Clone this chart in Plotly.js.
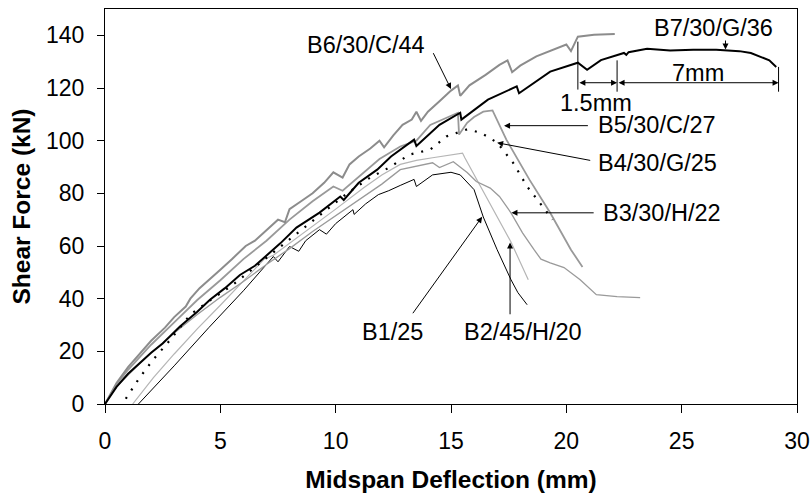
<!DOCTYPE html>
<html>
<head>
<meta charset="utf-8">
<script src="https://cdn.plot.ly/plotly-3.0.1.min.js"></script>
<style>html,body{margin:0;padding:0;background:#fff;}#chart{width:812px;height:498px;}</style>
</head>
<body>
<div id="chart"></div>
<script>
// B6/30/C/44
const b6x = [0,0.5,1,1.5,2,2.6,3,3.5,3.7,4.1,4.5,5,5.5,6.1,6.5,7,7.5,7.8,8,8.5,9,9.5,9.9,10.3,10.6,11,11.5,11.9,12.1,12.5,12.9,13.3,13.5,13.7,14,14.5,15,15.3,15.4,15.8,16.5,17.1,17.45,17.65,18.0,18.7,19.3,20.0,20.2,20.5,21.2,22.1];
const b6y = [0,8,14,19,24,29,33,37,40,44,47,51,55,60,62,66,70,69,74,77,80,84,88,86,91,94,97,100,97.5,102,106,108,111,107.5,111,115,119,121,117,121,125,128.8,130.5,126,128.5,132,134,136.5,134,139.5,140.2,140.5];
// B5/30/C/27
const b5x = [0,0.5,1,2,3,4,5,6,7,8,9,9.9,10.3,11.2,11.9,12.8,13.5,14.1,14.8,15.3,15.35,15.7,16.0,16.4,16.8,17.0,17.4,18.4,19.3,20.2,20.7];
const b5y = [0,7.5,13,22.5,31,39.5,47,55,62,70,77,82.6,81,87.8,93,97.8,100,106,108.7,110.6,102.3,106.8,109,111,111.5,108,100.4,85.2,72.6,58.6,52];
// B7/30/G/36
const b7x = [0,0.5,1,1.5,2,2.5,3.25,4,4.55,5.2,5.85,6.5,7.2,7.6,8.3,9.3,10.2,10.35,11,11.8,12.4,13.4,13.5,14.5,15.4,15.45,16.6,17.6,17.85,17.95,19.3,20.5,20.9,21.5,22.5,22.6,22.7,23.5,24.5,25.5,26.5,27.5,28.0,28.8,29.1];
const b7y = [0,6.5,11.5,15.5,19.5,23,29.4,35,39.6,44,49,52.5,58,61,67,72.7,78.8,77.5,84,89,94,100.4,98,106,110.6,108,115.6,119.4,120.6,118,126.2,129.6,126.9,130.6,133.3,132.6,133.6,134.9,134.2,134.5,134.5,134,133.3,130.5,128];
// B4/30/G/25
const b4x = [0.9,1.5,2.1,2.7,3.25,3.7,4.5,5.5,6.5,7.5,8.5,9.5,10.5,11.5,12.3,13.2,14.1,14.8,15.7,16.3,17,17.7,18.3,18.9,19.4];
const b4y = [2,10,17,23,29,34,39,45,52,59,66,73,80,86,89.7,94.7,96.6,101.6,104.3,103,99.3,91.5,82.6,75.8,70];
// B3/30/H/22
const b3x = [0,0.5,1,2,3,4,5,6,7,8,9,10,11,12,12.8,13.5,14.2,14.5,15.1,15.7,16.1,16.7,17.1,17.6,18.1,18.6,18.9,19.3,19.9,20.6,21.3,22.2,23.2];
const b3y = [0,6.5,11,19.5,27,34,40.5,46.5,53,59,65.5,71.5,77.5,83.5,89,90.2,91.6,89.8,92,87.9,84.5,82,78.8,72.6,65,58.6,55,53.6,51.8,47.2,41.5,40.8,40.4];
// B2/45/H/20
const b2x = [1.2,2.1,3,4,5,6,6.9,7.3,8,9,10,11.2,12,12.8,13.5,14.2,15,15.5,15.6,16.2,17,17.6,18.35];
const b2y = [0,10,19,28.5,37.5,46.5,55,56.5,61,67.4,74,82,87,91,92.5,93.5,94.5,95.3,93.5,84,71,61.5,47.2];
// B1/25
const b1x = [1.45,3,4.5,6,7.0,7.3,7.5,8.0,8.4,8.7,9.3,9.6,10,10.75,10.8,11.3,11.85,12.3,12.8,13.4,13.5,14.2,15.0,15.4,16.0,16.4,17,17.6,17.9,18.3];
const b1y = [0,14.5,29,43,53,56,54,59.8,58,62,66.2,64.5,68.5,73.8,72,76,79.5,81,83,85.3,82.6,87,88,87,81.4,71,58.6,47.2,42.3,37.7];

const xTicks = [0,5,10,15,20,25,30];
const yTicks = [0,20,40,60,80,100,120,140];

function tr(x,y,color,width,dash){
  return {x:x,y:y,type:'scatter',mode:'lines',line:{color:color,width:width,dash:dash||'solid'},hoverinfo:'skip',showlegend:false};
}
const data = [
  tr(b1x,b1y,'#000000',1),
  tr(b2x,b2y,'#b5b5b5',1.2),
  tr(b3x,b3y,'#9a9a9a',1.3),
  tr(b5x,b5y,'#999999',1.8),
  tr(b6x,b6y,'#8c8c8c',2),
  tr(b4x,b4y,'#000000',2.2,'2px,8px'),
  tr(b7x,b7y,'#000000',2)
];

const F = 'Liberation Sans, Arial, sans-serif';
function lab(text,x,y,xanchor){
  return {text:text,x:x,y:y,xref:'x',yref:'y',showarrow:false,xanchor:xanchor||'center',yanchor:'middle',font:{family:F,size:23.5,color:'#000'}};
}
function arr(x0,y0,x1,y1,both){
  return {text:'',x:x1,y:y1,ax:x0,ay:y0,xref:'x',yref:'y',axref:'x',ayref:'y',showarrow:true,arrowhead:2,arrowsize:1.2,arrowwidth:1,arrowcolor:'#000',arrowside: both?'end+start':'end',standoff:0,startstandoff:0};
}
const annotations = [
  lab('B6/30/C/44',11.3,136.5),
  arr(14.2,133.8,15.0,119.6),
  lab('B7/30/G/36',26.4,142.7),
  arr(26.9,138.6,26.9,134.6),
  lab('B5/30/C/27',21.3,106.1,'left'),
  arr(21.0,105.7,17.3,105.7),
  lab('B4/30/G/25',21.3,91.6,'left'),
  arr(21.1,92.4,17.0,99.2),
  lab('B3/30/H/22',21.5,72.6,'left'),
  arr(21.25,72.6,17.62,72.6),
  lab('B1/25',12.45,27.4),
  arr(13.3,33.9,16.35,71.1),
  lab('B2/45/H/20',18.1,27.4),
  arr(17.56,33.5,17.56,61.3),
  arr(20.5,122,22.2,122,true),
  arr(22.2,122,29.2,122,true),
  lab('1.5mm',21.3,114.4),
  lab('7mm',25.7,125.8)
];
const shapes = [
  {type:'line',xref:'x',yref:'y',x0:20.5,x1:20.5,y0:119.4,y1:137.6,line:{color:'#000',width:1}},
  {type:'line',xref:'x',yref:'y',x0:22.2,x1:22.2,y0:118.6,y1:130.5,line:{color:'#000',width:1}},
  {type:'line',xref:'x',yref:'y',x0:29.2,x1:29.2,y0:118.6,y1:128,line:{color:'#000',width:1}}
];

const layout = {
  width:812,height:498,
  margin:{l:105,r:15,t:9,b:94,pad:0},
  paper_bgcolor:'#fff',plot_bgcolor:'#fff',
  font:{family:F,size:23,color:'#000'},
  showlegend:false,
  xaxis:{range:[0,30],tickvals:xTicks,ticktext:xTicks.map(String),ticks:'outside',ticklen:8,tickwidth:1,tickcolor:'#000',
    ticklabelstandoff:8,
    showline:true,linecolor:'#000',linewidth:1,mirror:true,showgrid:false,zeroline:false,
    tickfont:{family:F,size:23,color:'#000'},
    title:{text:'<b>Midspan Deflection (mm)</b>',font:{family:F,size:24.5,color:'#000'},standoff:18}},
  yaxis:{range:[0,150],tickvals:yTicks,ticktext:yTicks.map(String),ticks:'outside',ticklen:7,tickwidth:1,tickcolor:'#000',
    ticklabelstandoff:8,
    showline:true,linecolor:'#000',linewidth:1,mirror:true,showgrid:false,zeroline:false,
    tickfont:{family:F,size:23,color:'#000'},
    title:{text:'<b>Shear Force (kN)</b>',font:{family:F,size:24.5,color:'#000'},standoff:8}},
  annotations:annotations,
  shapes:shapes
};
Plotly.newPlot('chart',data,layout,{staticPlot:true,displayModeBar:false});
</script>
</body>
</html>
